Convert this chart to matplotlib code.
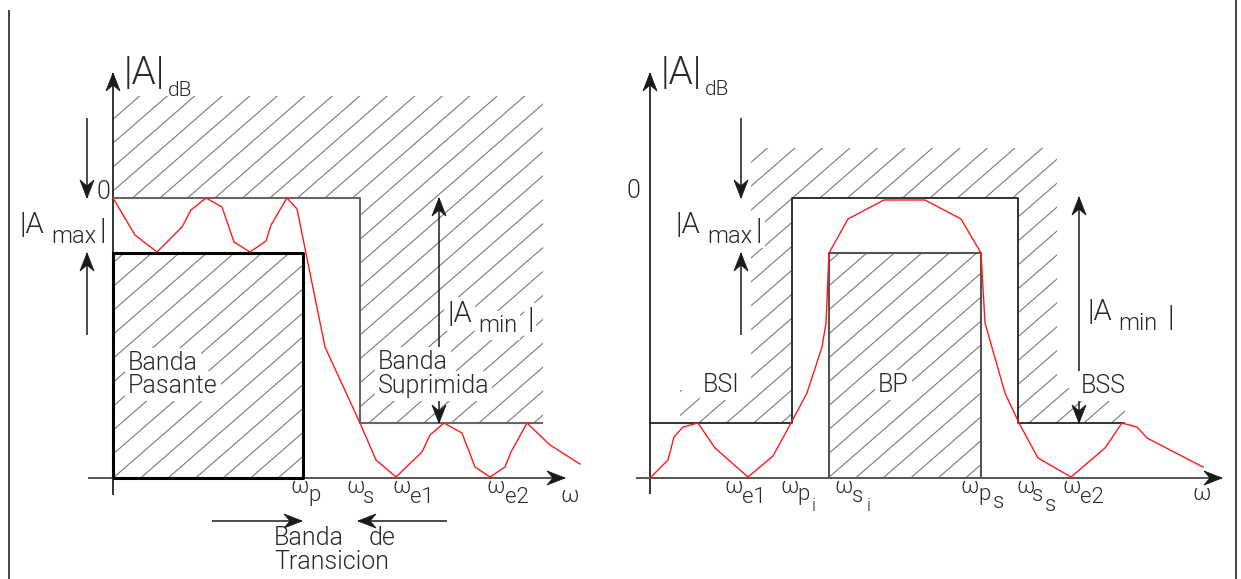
import matplotlib
matplotlib.use("Agg")
import matplotlib.pyplot as plt
import numpy as np
from matplotlib.collections import LineCollection
from matplotlib.patches import Polygon

# ---- data (pixel space of the drawing: x to the right, y downwards) ----
# red response curves
low_x = [113, 135, 157, 182, 191, 206, 222, 234, 250, 266, 271, 287, 297, 325, 360,
         376, 396, 422, 430, 444, 462, 475, 490, 505, 511, 527, 550, 580]
low_y = [198, 235, 252, 227, 210, 198, 207, 242, 252, 241, 225, 198, 209, 347, 423,
         460, 477, 452, 435, 423, 433, 467, 477, 467, 452, 423, 445, 464]
bp_x = [650, 668, 674, 683, 698, 715, 748, 773, 791, 807, 822, 826, 829, 848, 884,
        925, 961, 981, 985, 1005, 1019, 1038, 1071, 1105, 1122, 1137, 1147, 1203]
bp_y = [478, 460, 437, 427, 423, 448, 477, 456, 423, 393, 347, 323, 253, 219, 200,
        200, 219, 253, 323, 393, 423, 458, 477, 448, 423, 427, 438, 467]

# template outlines
low_stop_x = [113, 360, 360, 543]
low_stop_y = [198, 198, 423, 423]
low_pass_box = [(113, 478), (113, 253), (303, 253), (303, 478)]
bp_stop_x = [650, 792, 792, 1018, 1018, 1125]
bp_stop_y = [423, 423, 198, 198, 423, 423]
bp_pass_box_x = [829, 829, 981, 981]
bp_pass_box_y = [478, 253, 253, 478]

# hatched regions
low_hatch_stop = [(113, 96), (543, 96), (543, 423), (360, 423), (360, 198), (113, 198)]
bp_hatch_stop = [(751, 148), (1057, 148), (1057, 388), (1125, 388), (1125, 423),
                 (1018, 423), (1018, 198), (792, 198), (792, 423), (680, 423),
                 (680, 390), (751, 390)]
bp_hatch_pass = [(829, 253), (981, 253), (981, 478), (829, 478)]

# frequency labels: (x of omega, subscript pieces as (dx, dy, text, size))
low_freq = [(291, [(17, 8, "p", 16)]),
            (346, [(17, 10, "s", 16)]),
            (393, [(17, 10, "e1", 16)]),
            (486, [(19, 10, "e2", 16)])]
bp_freq = [(725, [(17, 10, "e1", 16)]),
           (780, [(17, 7, "p", 16), (32, 18, "i", 13)]),
           (835, [(17, 9, "s", 16), (32, 18, "i", 13)]),
           (961, [(17, 7, "p", 16), (32, 15, "s", 16)]),
           (1016, [(16, 8, "s", 16), (29, 18, "s", 16)]),
           (1063, [(17, 10, "e2", 16)])]

TXT = "#2a2a2a"
FONT = ["Roboto", "DejaVu Sans"]

fig = plt.figure(figsize=(12.41, 5.79), dpi=100)
ax = fig.add_axes([0, 0, 1, 1])
ax.set_xlim(0, 1241)
ax.set_ylim(579, 0)
ax.axis("off")


def hatch(poly, spacing=27.5, slope=0.87):
    patch = Polygon(poly, closed=True, facecolor="none", edgecolor="none")
    ax.add_patch(patch)
    step = spacing * slope
    segs = []
    for c in np.arange(385 - 80 * step, 385 + 80 * step, step):
        segs.append([(0, c), (1241, c - slope * 1241)])
    lc = LineCollection(segs, colors="#7a7a7a", linewidths=0.8, zorder=1)
    ax.add_collection(lc)
    lc.set_clip_path(patch)


def head(x, y, d, L=18, W=7, notch=6, color="#1a1a1a"):
    dx, dy = {"up": (0, -1), "down": (0, 1), "right": (1, 0), "left": (-1, 0)}[d]
    px, py = -dy, dx
    pts = [(x, y),
           (x - L * dx + W * px, y - L * dy + W * py),
           (x - (L - notch) * dx, y - (L - notch) * dy),
           (x - L * dx - W * px, y - L * dy - W * py)]
    ax.add_patch(Polygon(pts, closed=True, facecolor=color, edgecolor=color, lw=0.6, zorder=6))


def line(xs, ys, color="#1a1a1a", lw=1.1, z=4):
    ax.plot(xs, ys, color=color, lw=lw, zorder=z, solid_capstyle="butt")


def txt(x, y, s, size, mask=False):
    kw = dict(fontsize=size, color=TXT, family=FONT, fontweight=300,
              ha="left", va="baseline", zorder=8)
    if mask:
        kw["bbox"] = dict(facecolor="white", edgecolor="none", pad=2)
    ax.text(x, y, s, **kw)


def amp(x, y, sub, mask=False):
    # |A_sub| built from pieces like the CAD text
    txt(x, y, "|A", 21, mask)
    txt(x + 31, y + 10, sub, 17, mask)
    txt(x + 80, y + 6, "|", 21, mask)


def freq(labels, y0=493):
    for x, subs in labels:
        txt(x, y0, "ω", 16)
        for dx, dy, s, size in subs:
            txt(x + dx, y0 + dy, s, size)


# hatching
hatch(low_hatch_stop)
hatch(low_pass_box)
hatch(bp_hatch_stop)
hatch(bp_hatch_pass)

# page border
line([9, 9], [10, 579], color="#444444", lw=1.4)
line([1236, 1236], [0, 579], color="#444444", lw=1.4)

# ---------------- left: low-pass ----------------
line([113, 113], [73, 495], color="#333333", lw=1.4)
line([88, 565], [478, 478], color="#555555", lw=1.4)
head(113, 73, "up")
head(565, 478, "right")
line(low_stop_x, low_stop_y, color="#666666", lw=1.5)
bx, by = zip(*(low_pass_box + [low_pass_box[0]]))
line(bx, by, color="#000000", lw=2.2, z=5)
ax.plot(low_x, low_y, color="#ff1a1a", lw=1.0, zorder=7)

line([87, 87], [118, 198]); head(87, 198, "down")
line([87, 87], [335, 253]); head(87, 253, "up")
line([439, 439], [198, 423]); head(439, 198, "up"); head(439, 423, "down")
line([212, 302], [521, 521]); head(302, 521, "right")
line([447, 358], [521, 521]); head(358, 521, "left")

txt(124, 84, "|A|", 28)
txt(168, 96, "dB", 15)
txt(96, 199, "0", 18)
amp(20, 233, "max")
amp(447, 322, "min", mask=True)
txt(128, 370, "Banda", 18, mask=True)
txt(128, 393, "Pasante", 18, mask=True)
txt(378, 369, "Banda", 18, mask=True)
txt(378, 393, "Suprimida", 18, mask=True)
txt(274, 545, "Banda", 18)
txt(369, 545, "de", 18)
txt(274, 569, "Transicion", 18)

freq(low_freq)
txt(561, 502, "ω", 16)

# ---------------- right: band-pass ----------------
line([650, 650], [73, 494], color="#333333", lw=1.4)
line([636, 1222], [478, 478], color="#555555", lw=1.4)
head(650, 73, "up")
head(1222, 478, "right")
line(bp_stop_x, bp_stop_y, color="#222222", lw=1.3)
line(bp_pass_box_x, bp_pass_box_y, color="#555555", lw=1.5, z=5)
ax.plot(bp_x, bp_y, color="#ff1a1a", lw=1.0, zorder=7)

line([741, 741], [118, 198]); head(741, 198, "down")
line([741, 741], [335, 253]); head(741, 253, "up")
line([1079, 1079], [197, 423]); head(1079, 197, "up"); head(1079, 423, "down")

txt(661, 84, "|A|", 28)
txt(705, 95, "dB", 15)
txt(626, 198, "0", 18)
amp(676, 233, "max", mask=True)
amp(1087, 320, "min")
txt(703, 392, "BSI", 18, mask=True)
txt(878, 392, "BP", 18, mask=True)
txt(1081, 393, "BSS", 18, mask=True)

freq(bp_freq)
txt(1193, 500, "ω", 16)

fig.savefig("out.png", dpi=100)
